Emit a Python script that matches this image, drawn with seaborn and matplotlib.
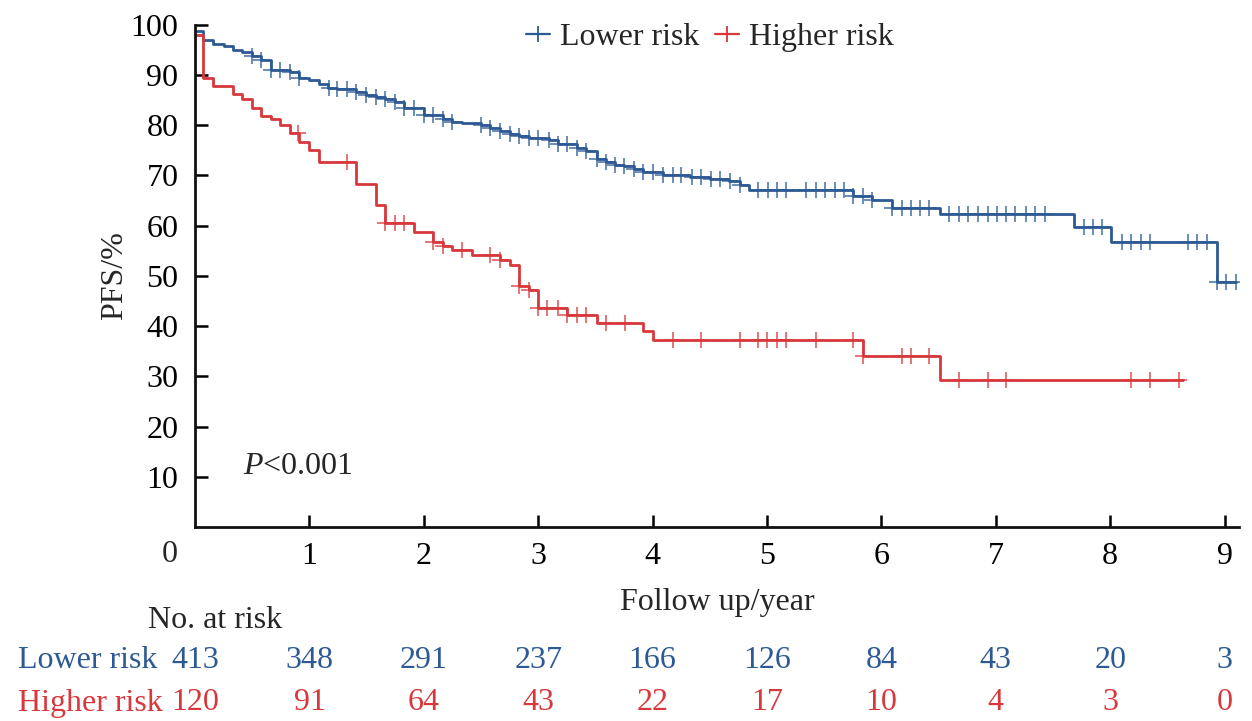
import numpy as np
import seaborn as sns
import pandas as pd
import matplotlib.pyplot as plt
import matplotlib.transforms as mtransforms
from matplotlib.lines import Line2D

# Step curves: time of each drop (years) and PFS (%) after it
low_t = [0, 0.07, 0.16, 0.25, 0.33, 0.41, 0.50, 0.58, 0.66, 0.83, 0.91, 1.00, 1.08, 1.16, 1.24,
         1.41, 1.49, 1.58, 1.66, 1.75, 1.83, 2.00, 2.17, 2.25, 2.33, 2.50, 2.58, 2.67, 2.75, 2.83,
         2.92, 3.09, 3.17, 3.34, 3.42, 3.51, 3.59, 3.67, 3.75, 3.84, 3.92, 4.09, 4.33, 4.50, 4.67,
         4.76, 4.84, 5.75, 5.92, 6.09, 6.51, 7.68, 8.01, 8.93, 9.10]
low_s = [98.8, 97.0, 96.2, 95.7, 94.9, 94.6, 93.7, 92.9, 90.9, 90.5, 89.4, 89.0, 88.2, 87.4, 87.1,
         86.5, 85.9, 85.6, 85.1, 84.5, 83.4, 82.0, 81.2, 80.6, 80.4, 80.0, 79.4, 78.8, 78.3, 77.8,
         77.5, 77.1, 76.3, 75.4, 74.8, 73.2, 72.6, 72.1, 71.8, 71.3, 70.6, 70.1, 69.7, 69.3, 68.8,
         68.1, 67.0, 65.8, 65.0, 63.4, 62.2, 59.8, 56.8, 48.7, 48.7]

high_t = [0, 0.07, 0.16, 0.33, 0.41, 0.50, 0.58, 0.66, 0.74, 0.83, 0.91, 1.00, 1.08, 1.41, 1.58,
          1.66, 1.91, 2.08, 2.17, 2.25, 2.42, 2.67, 2.75, 2.83, 2.92, 3.00, 3.25, 3.51, 3.92, 4.00,
          5.84, 6.51, 8.64]
high_s = [97.9, 89.4, 87.7, 86.1, 85.2, 83.4, 81.7, 81.1, 80.1, 78.4, 76.7, 75.1, 72.6, 68.3, 64.1,
          60.6, 58.8, 56.8, 56.0, 55.1, 54.2, 53.2, 52.2, 48.0, 47.1, 43.6, 42.2, 40.7, 39.0, 37.3,
          34.1, 29.2, 29.2]

# Censoring times
low_cens = [0.50, 0.58, 0.66, 0.74, 0.83, 0.91, 1.17, 1.24, 1.33, 1.41, 1.49, 1.58, 1.66, 1.75,
            1.83, 1.91, 2.00, 2.08, 2.17, 2.25, 2.50, 2.58, 2.67, 2.75, 2.83, 2.92, 3.00, 3.09,
            3.17, 3.25, 3.34, 3.42, 3.51, 3.59, 3.67, 3.75, 3.84, 3.92, 4.00, 4.09, 4.18, 4.25,
            4.34, 4.42, 4.51, 4.59, 4.68, 4.76, 4.92, 5.01, 5.09, 5.17, 5.34, 5.43, 5.51, 5.59,
            5.67, 5.75, 5.84, 5.92, 6.09, 6.18, 6.26, 6.34, 6.42, 6.59, 6.68, 6.76, 6.84, 6.93,
            7.01, 7.09, 7.17, 7.26, 7.34, 7.43, 7.77, 7.85, 7.93, 8.10, 8.18, 8.27, 8.35, 8.68,
            8.76, 8.85, 8.93, 9.01, 9.10]
high_cens = [0.90, 1.33, 1.66, 1.75, 1.83, 2.08, 2.17, 2.33, 2.58, 2.67, 2.83, 2.92, 3.00, 3.08,
             3.17, 3.25, 3.34, 3.42, 3.59, 3.76, 4.18, 4.42, 4.76, 4.92, 5.00, 5.09, 5.17, 5.43,
             5.75, 5.84, 6.18, 6.26, 6.42, 6.68, 6.93, 7.09, 8.18, 8.35, 8.60]

# Numbers at risk
risk_years = [0, 1, 2, 3, 4, 5, 6, 7, 8, 9]
low_risk = [413, 348, 291, 237, 166, 126, 84, 43, 20, 3]
high_risk = [120, 91, 64, 43, 22, 17, 10, 4, 3, 0]

blue = "#2D5A94"
red = "#D8383C"

sns.set_style("ticks")
plt.rcParams["font.family"] = ["Liberation Serif", "DejaVu Serif"]
plt.rcParams["mathtext.fontset"] = "custom"
plt.rcParams["mathtext.it"] = "Liberation Serif:italic"
plt.rcParams["mathtext.rm"] = "Liberation Serif"
fs = 23

fig = plt.figure(figsize=(12.52, 7.21), dpi=100)
ax = fig.add_axes([0.1558, 0.269, 0.8342, 0.697])


def cens_points(t, s, ct):
    idx = np.searchsorted(np.array(t), np.array(ct), side="right") - 1
    return np.array(s)[idx]


groups = [("Lower risk", low_t, low_s, low_cens, blue),
          ("Higher risk", high_t, high_s, high_cens, red)]
for name, t, s, ct, col in groups:
    df = pd.DataFrame({"t": t, "s": s})
    sns.lineplot(data=df, x="t", y="s", drawstyle="steps-post", color=col, lw=2.0, ax=ax,
                 estimator=None, sort=False)
    dc = pd.DataFrame({"t": ct, "s": cens_points(t, s, ct)})
    sns.scatterplot(data=dc, x="t", y="s", marker="+", s=140, color=col, linewidth=1.3,
                    alpha=0.75, ax=ax, zorder=3)

ax.set_xlim(0, 9.13)
ax.set_ylim(0, 100)
ax.set_xticks(range(1, 10))
ax.set_yticks(range(10, 101, 10))
ax.tick_params(direction="in", length=9, width=1.8, labelsize=fs, pad=11, colors="black")
ax.tick_params(axis="y", pad=12)
for sp in ["top", "right"]:
    ax.spines[sp].set_visible(False)
for sp in ["left", "bottom"]:
    ax.spines[sp].set_linewidth(2.0)
    ax.spines[sp].set_color("#111111")

ax.set_xlabel("Follow up/year", fontsize=fs, labelpad=12)
ax.set_ylabel("PFS/%", fontsize=fs, labelpad=1)

fig.text(170 / 1252, 1 - 555 / 721, "0", fontsize=fs, ha="center", va="center")
ax.text(0.42, 12, "$P$<0.001", fontsize=fs, ha="left", va="center")

handles = [Line2D([], [], color=blue, marker="+", markersize=11, lw=1.6, mew=1.3),
           Line2D([], [], color=red, marker="+", markersize=11, lw=1.6, mew=1.3)]
ax.legend(handles, ["Lower risk", "Higher risk"], loc="upper center",
          bbox_to_anchor=(0.493, 1.06), ncol=2, frameon=False, fontsize=fs,
          handlelength=0.75, handletextpad=0.3, columnspacing=0.5)

# Numbers at risk table
tr = mtransforms.blended_transform_factory(ax.transData, fig.transFigure)
fig.text(148 / 1252, 1 - 620 / 721, "No. at risk", fontsize=fs, ha="left", va="center")
fig.text(18 / 1252, 1 - 661 / 721, "Lower risk", fontsize=fs, ha="left", va="center", color=blue)
fig.text(18 / 1252, 1 - 703 / 721, "Higher risk", fontsize=fs, ha="left", va="center", color=red)
for x, a, b in zip(risk_years, low_risk, high_risk):
    ax.text(x, 1 - 661 / 721, str(a), transform=tr, fontsize=fs, ha="center", va="center",
            color=blue, clip_on=False)
    ax.text(x, 1 - 703 / 721, str(b), transform=tr, fontsize=fs, ha="center", va="center",
            color=red, clip_on=False)

fig.savefig("out.png", dpi=100)
